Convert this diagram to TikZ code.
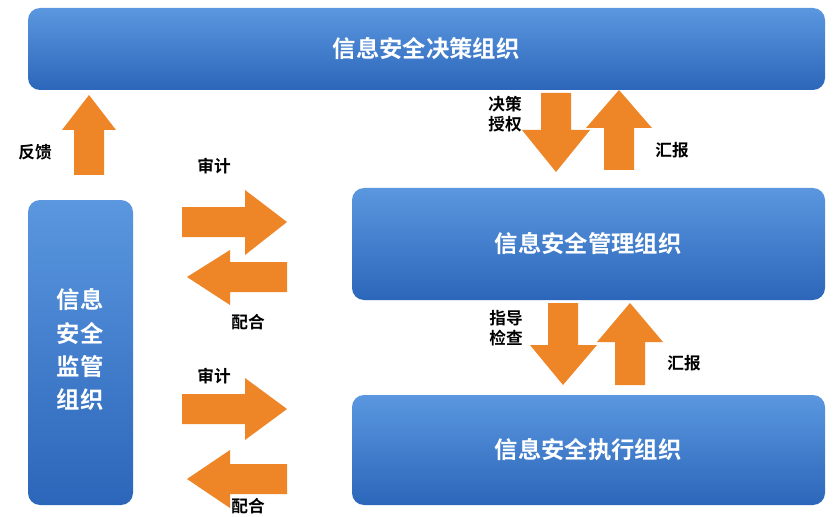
\documentclass[tikz,border=0pt]{standalone}
\usepackage{fontspec}
\setmainfont{Noto Sans CJK SC Bold}
\begin{document}
\begin{tikzpicture}[x=0.75pt,y=-0.75pt]
\definecolor{btop}{HTML}{5A97DF}
\definecolor{bbot}{HTML}{2C66BA}
\definecolor{org}{HTML}{EE8526}
\tikzset{bluebox/.style={rounded corners=9pt,top color=btop,bottom color=bbot,draw=none},oarrow/.style={fill=org},
  boxtext/.style={text=white,font=\fontsize{17.5}{25}\selectfont},
  lbl/.style={text=black,font=\fontsize{12.5}{15.5}\selectfont,align=center}}
\useasboundingbox (0,0) rectangle (840,517);
\fill[white] (0,0) rectangle (840,517);
\shade[bluebox] (28,8) rectangle (825,90);
\node[boxtext] (top) at (426,49) {信息安全决策组织};
\shade[bluebox] (28,200) rectangle (133,505);
\node[boxtext,align=center] (left) at (80,350) {信息\\安全\\监管\\组织};
\shade[bluebox] (352,188) rectangle (825,300);
\node[boxtext] (mid) at (588,244) {信息安全管理组织};
\shade[bluebox] (352,395) rectangle (825,505);
\node[boxtext] (bot) at (588,450) {信息安全执行组织};
% arrows
\fill[oarrow] (182,207)--(245,207)--(245,190)--(287,222)--(245,255)--(245,237)--(182,237)--cycle;
\fill[oarrow] (287,262)--(230,262)--(230,250)--(187,277)--(230,305)--(230,292)--(287,292)--cycle;
\fill[oarrow] (182,394)--(245,394)--(245,378)--(287,409)--(245,440)--(245,424)--(182,424)--cycle;
\fill[oarrow] (287,464)--(230,464)--(230,450)--(187,479)--(230,508)--(230,494)--(287,494)--cycle;
\fill[oarrow] (89,95)--(116,130)--(104,130)--(104,175)--(74,175)--(74,130)--(62,130)--cycle;
\fill[oarrow] (556,172)--(590,130)--(571,130)--(571,93)--(541,93)--(541,130)--(522,130)--cycle;
\fill[oarrow] (619,90)--(652,128)--(634,128)--(634,170)--(604,170)--(604,128)--(586,128)--cycle;
\fill[oarrow] (563,385)--(597,345)--(578,345)--(578,303)--(548,303)--(548,345)--(530,345)--cycle;
\fill[oarrow] (630,303)--(663,342)--(645,342)--(645,385)--(615,385)--(615,342)--(597,342)--cycle;
% labels
\node[lbl] (l1) at (35,152) {反馈};
\node[lbl] (l2) at (214,166) {审计};
\node[lbl] (l3) at (248,322) {配合};
\node[lbl] (l4) at (214,376) {审计};
\node[lbl] (l5) at (248,506) {配合};
\node[lbl] (l6) at (505,114) {决策\\授权};
\node[lbl] (l7) at (672,150) {汇报};
\node[lbl] (l8) at (506,328) {指导\\检查};
\node[lbl] (l9) at (684,363) {汇报};
\end{tikzpicture}
\end{document}
